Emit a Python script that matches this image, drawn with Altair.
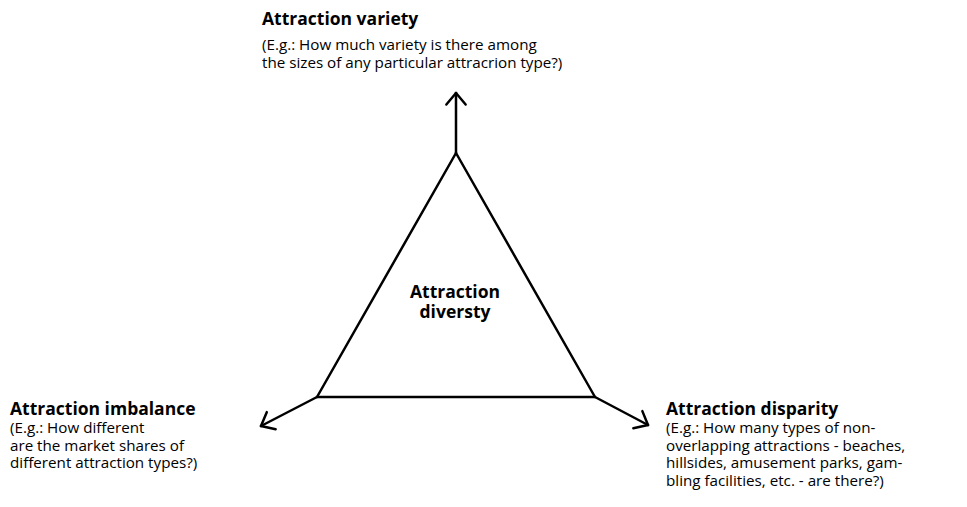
import altair as alt
import pandas as pd
import numpy as np

# Triangle vertices (page pixel coordinates)
vertex_names = ["top", "left", "right"]
vertex_x = [456, 317, 595]
vertex_y = [153, 397, 397]

# Arrow tips leaving each vertex
arrow_tip_x = [456, 261, 648]
arrow_tip_y = [93, 426, 425]

# Labels
title_texts = ["Attraction variety", "Attraction imbalance", "Attraction disparity"]
title_x = [262, 10, 666]
title_y = [25, 415, 415]
desc_lines = [
    ["(E.g.: How much variety is there among",
     "the sizes of any particular attracrion type?)"],
    ["(E.g.: How different",
     "are the market shares of",
     "different attraction types?)"],
    ["(E.g.: How many types of non-",
     "overlapping attractions - beaches,",
     "hillsides, amusement parks, gam-",
     "bling facilities, etc. - are there?)"],
]
desc_first_y = [50, 433, 433]
line_step = 17.5

center_lines = ["Attraction", "diversty"]
center_x = 455
center_y = [298, 318]

# ---- build tables ----
segs = []
# triangle edges
for i in range(3):
    j = (i + 1) % 3
    segs.append(dict(x=vertex_x[i], y=vertex_y[i], x2=vertex_x[j], y2=vertex_y[j]))
# arrows: shaft + two barbs
barb_len = 15.0
barb_ang = np.deg2rad(40)
for i in range(3):
    tx, ty = arrow_tip_x[i], arrow_tip_y[i]
    bx, by = vertex_x[i], vertex_y[i]
    segs.append(dict(x=bx, y=by, x2=tx, y2=ty))
    d = np.array([bx - tx, by - ty], dtype=float)
    d /= np.linalg.norm(d)
    for s in (1, -1):
        a = s * barb_ang
        rx = d[0] * np.cos(a) - d[1] * np.sin(a)
        ry = d[0] * np.sin(a) + d[1] * np.cos(a)
        segs.append(dict(x=tx, y=ty, x2=tx + barb_len * rx, y2=ty + barb_len * ry))
seg_df = pd.DataFrame(segs)

title_df = pd.DataFrame(dict(x=title_x, y=title_y, text=title_texts))
desc_rows = []
for i, lines in enumerate(desc_lines):
    for k, t in enumerate(lines):
        desc_rows.append(dict(x=title_x[i], y=desc_first_y[i] + k * line_step, text=t))
desc_df = pd.DataFrame(desc_rows)
center_df = pd.DataFrame(dict(x=[center_x] * len(center_lines), y=center_y, text=center_lines))

xs = alt.Scale(domain=[8, 959], nice=False, zero=False)
ys = alt.Scale(domain=[8, 499], nice=False, zero=False, reverse=True)

lines = alt.Chart(seg_df).mark_rule(color="black", strokeWidth=2.5, strokeCap="round").encode(
    x=alt.X("x:Q", scale=xs, axis=None),
    y=alt.Y("y:Q", scale=ys, axis=None),
    x2="x2:Q", y2="y2:Q",
)

titles = alt.Chart(title_df).mark_text(
    align="left", baseline="alphabetic", font="Open Sans", fontWeight="bold",
    fontSize=17.5, color="black"
).encode(x=alt.X("x:Q", scale=xs, axis=None), y=alt.Y("y:Q", scale=ys, axis=None), text="text:N")

descs = alt.Chart(desc_df).mark_text(
    align="left", baseline="alphabetic", font="Open Sans", fontSize=15.2, color="black"
).encode(x=alt.X("x:Q", scale=xs, axis=None), y=alt.Y("y:Q", scale=ys, axis=None), text="text:N")

center = alt.Chart(center_df).mark_text(
    align="center", baseline="alphabetic", font="Open Sans", fontWeight="bold",
    fontSize=17.5, color="black"
).encode(x=alt.X("x:Q", scale=xs, axis=None), y=alt.Y("y:Q", scale=ys, axis=None), text="text:N")

chart = alt.layer(lines, titles, descs, center).properties(
    width=951, height=491, autosize=alt.AutoSizeParams(type="none"), padding=0,
    background="white"
).configure_view(stroke=None)

chart.save("out.html", embed_options={"renderer": "svg", "actions": False})
